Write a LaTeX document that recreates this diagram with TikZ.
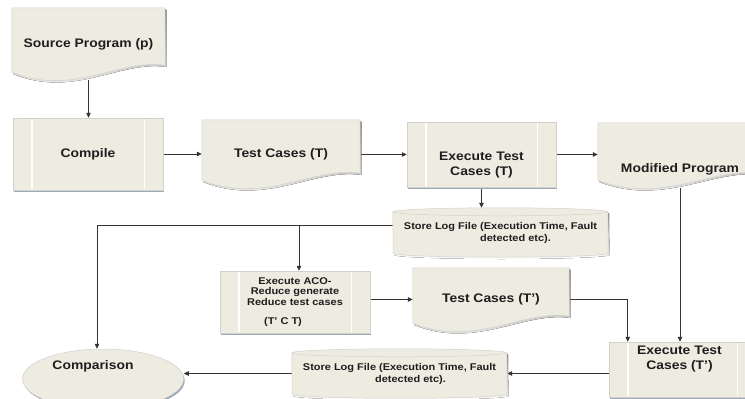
\documentclass[tikz,border=0pt]{standalone}
\usepackage{fontspec}
\setmainfont{Liberation Sans}[FakeStretch=1.12]
\usetikzlibrary{arrows.meta,calc,shadows,shapes.geometric}
\definecolor{boxfill}{HTML}{EEECE1}
\definecolor{boxline}{HTML}{D2D2CC}
\definecolor{shade}{HTML}{9EA8B8}
\definecolor{wire}{HTML}{333333}
\definecolor{inkc}{HTML}{1E1E1E}
\pgfdeclarelayer{wires}
\pgfdeclarelayer{shapes}
\pgfsetlayers{wires,shapes,main}

% document outline, wavy bottom
\newcommand\docpath[1]{(#1.north west) -- (#1.north east) -- ($(#1.south east)+(0,-15)$)
  .. controls ($(#1.south west)!.7!(#1.south east)+(0,-22)$) and ($(#1.south west)!.4!(#1.south east)+(0,17)$)
  .. ($(#1.south west)+(0,-8)$) -- cycle}
% log file drum
\newcommand\drumpath[1]{($(#1.north west)+(0,4)$) arc[start angle=180,end angle=360,x radius=107.5,y radius=4]
  -- ($(#1.south east)+(0,-4)$) arc[start angle=0,end angle=180,x radius=107.5,y radius=4] -- cycle}

\newcommand\docshape[1]{\begin{pgfonlayer}{shapes}
  \fill[shade,transform canvas={shift={(1.2pt,-1.8pt)}}] \docpath{#1};
  \filldraw[fill=boxfill,draw=boxline,line width=.5pt] \docpath{#1};
\end{pgfonlayer}}
\newcommand\drumshape[1]{\begin{pgfonlayer}{shapes}
  \fill[shade,transform canvas={shift={(1.2pt,-1.8pt)}}] \drumpath{#1};
  \filldraw[fill=boxfill,draw=boxline,line width=.5pt] \drumpath{#1};
  \draw[boxline,line width=.5pt] ($(#1.north west)+(0,4)$) arc[start angle=180,end angle=0,x radius=107.5,y radius=4];
\end{pgfonlayer}}
\newcommand\proclines[1]{\draw[white,line width=1.5pt] ($(#1.north west)+(19,1)$) -- ($(#1.south west)+(19,-1)$)
  ($(#1.north east)+(-19,1)$) -- ($(#1.south east)+(-19,-1)$);}

\begin{document}
\begin{tikzpicture}[x=1pt,y=-1pt,
  bigtxt/.style={font=\bfseries\fontsize{12.4}{15}\selectfont,text=inkc,align=center},
  smalltxt/.style={font=\bfseries\fontsize{9.8}{10.5}\selectfont,text=inkc,align=center},
  logtxt/.style={font=\bfseries\fontsize{9.8}{12}\selectfont,text=inkc,align=center},
  doc/.style={bigtxt,inner sep=0pt},
  drum/.style={logtxt,inner sep=0pt,minimum width=215pt,minimum height=49pt},
  proc/.style={draw=boxline,fill=boxfill,line width=.5pt,inner sep=0pt,
    drop shadow={shadow xshift=1.2pt,shadow yshift=-1.8pt,fill=shade,opacity=1}},
  term/.style={ellipse,draw=boxline,fill=boxfill,line width=.5pt,inner sep=0pt,
    drop shadow={shadow xshift=1.2pt,shadow yshift=-1.8pt,fill=shade,opacity=1}},
  every label/.style={bigtxt},
  arr/.style={draw=wire,line width=.7pt,-{Triangle[length=5pt,width=4.5pt]}}]

\useasboundingbox (0,0) rectangle (745,399);
\begin{pgfonlayer}{wires}
\fill[white] (0,0) rectangle (745,399);
\end{pgfonlayer}

%top row
\node[doc,minimum width=153pt,minimum height=72pt] (src) at (88.5,44) {Source Program (p)};
\docshape{src}
\node[proc,bigtxt,minimum width=150pt,minimum height=72pt] (cmpl) at (88,154) {Compile};
\proclines{cmpl}
\node[doc,minimum width=158pt,minimum height=68pt] (tcT) at (281,154) {Test Cases (T)};
\docshape{tcT}
\node[proc,minimum width=149pt,minimum height=65pt,label={[yshift=-11pt]center:Execute Test\\Cases (T)}] (exT) at (481.5,154.5) {};
\proclines{exT}
\node[doc,minimum width=164pt,minimum height=65pt,label={[yshift=-14pt]center:Modified Program}] (modP) at (680,155.5) {};
\docshape{modP}

%log files
\node[drum] (log1) at (500.5,232.5) {Store Log File (Execution Time, Fault\\\hspace*{30pt}detected etc).};
\drumshape{log1}
\node[drum] (log2) at (399.5,373.5) {Store Log File (Execution Time, Fault\\\hspace*{22pt}detected etc).};
\drumshape{log2}

%reduction
\node[proc,smalltxt,minimum width=150pt,minimum height=62pt] (aco) at (295,302)
  {Execute ACO-\\Reduce generate\\Reduce test cases\\[8.5pt](T' C T)\hspace*{24pt}};
\proclines{aco}
\node[doc,minimum width=156pt,minimum height=63pt] (tcT2) at (491,299.5) {Test Cases (T')};
\docshape{tcT2}
\node[proc,minimum width=147pt,minimum height=55pt,label={[xshift=-3pt,yshift=10pt]center:Execute Test\\Cases (T')}] (exT2) at (682.5,369.5) {};
\proclines{exT2}
\node[term,minimum width=161pt,minimum height=60pt,label={[xshift=-10pt,yshift=13pt]center:Comparison}] (cmp) at (103,379) {};

\begin{pgfonlayer}{wires}
\coordinate (j1) at ([yshift=7pt]log1.west);
\coordinate (acotop) at ([xshift=4pt]aco.north);
\draw[arr] (src.south) -- (src.south |- cmpl.north);
\draw[arr] (cmpl.east) -- (cmpl.east -| tcT.west);
\draw[arr] (tcT.east |- exT.west) -- (exT.west);
\draw[arr] (exT.east) -- (exT.east -| modP.west);
\draw[arr] (exT.south) -- (exT.south |- log1.north);
\draw[arr] (j1) -| ([xshift=-6pt]cmp.north);
\draw[arr] (j1 -| acotop) -- (acotop);
\draw[arr] (aco.east |- tcT2.west) -- (tcT2.west);
\draw[arr] (tcT2.east) -| ([xshift=19pt]exT2.north west);
\draw[arr] (modP.south) -- (modP.south |- exT2.north);
\draw[arr] (exT2.west |- log2.east) -- (log2.east);
\draw[arr] (log2.west) -- (log2.west -| cmp.east);
\end{pgfonlayer}
\end{tikzpicture}
\end{document}
